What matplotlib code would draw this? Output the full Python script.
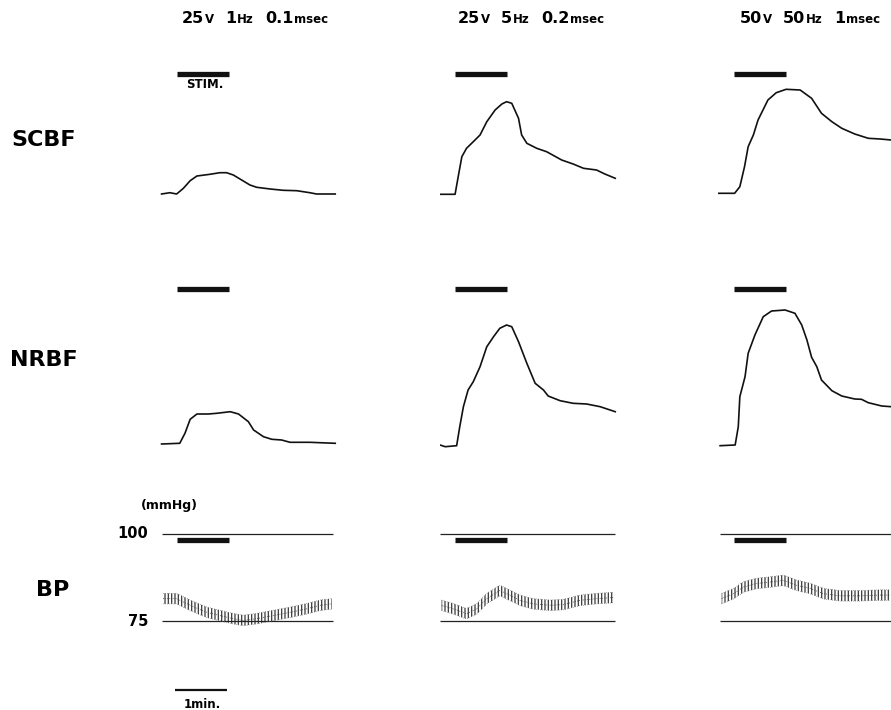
import matplotlib
matplotlib.use('Agg')
import matplotlib.pyplot as plt

W, H = 891, 710
PX_PER_MIN = 52

# column headers: (number, unit) groups
titles = [
    [('25', 'V'), ('1', 'Hz'), ('0.1', 'msec')],
    [('25', 'V'), ('5', 'Hz'), ('0.2', 'msec')],
    [('50', 'V'), ('50', 'Hz'), ('1', 'msec')],
]

# stimulation onset (min from trace start), duration 1 min
stim_on = [0.33, 0.29, 0.31]
stim_dur = 1.0

# SCBF traces: time (min) and flow above baseline (arbitrary units)
scbf_t1 = [0.03, 0.19, 0.32, 0.45, 0.58, 0.71, 0.96, 1.15, 1.28, 1.41, 1.57, 1.73, 1.86, 2.12, 2.37, 2.63, 2.88, 3.01, 3.37]
scbf_v1 = [1, 2.3, 1, 6.7, 14.3, 19, 20.7, 22.3, 22.3, 20, 15, 10, 7.7, 6, 4.7, 4.3, 2.3, 1, 1]
scbf_t2 = [0, 0.29, 0.35, 0.42, 0.51, 0.64, 0.77, 0.90, 1.06, 1.19, 1.28, 1.38, 1.51, 1.57, 1.67, 1.86, 2.05, 2.34, 2.56, 2.76, 3.01, 3.17, 3.37]
scbf_v2 = [0.7, 0.7, 18.3, 38.3, 46.7, 53.3, 60, 73.3, 85, 91, 93.3, 91.7, 76.7, 60, 51.7, 46.7, 43.3, 35, 31, 26.7, 25, 21, 16.7]
scbf_t3 = [0, 0.32, 0.42, 0.51, 0.58, 0.68, 0.77, 0.96, 1.12, 1.31, 1.58, 1.80, 1.99, 2.19, 2.38, 2.63, 2.89, 3.12, 3.33]
scbf_v3 = [1.7, 1.7, 8.3, 28.3, 48.3, 60, 75, 95, 102.3, 105.7, 105, 96.7, 81.7, 73.3, 66.7, 61, 56.7, 56, 55]

# NRBF traces
nrbf_t1 = [0.03, 0.38, 0.48, 0.58, 0.71, 0.93, 1.09, 1.35, 1.51, 1.70, 1.80, 1.99, 2.15, 2.34, 2.50, 2.88, 3.37]
nrbf_v1 = [1, 1.7, 11.7, 25.7, 31, 31, 31.7, 33.3, 31, 23.3, 15, 8.3, 5.7, 5, 2.7, 2.7, 1.7]
nrbf_t2 = [0, 0.10, 0.32, 0.38, 0.45, 0.54, 0.64, 0.77, 0.90, 1.03, 1.15, 1.28, 1.38, 1.51, 1.67, 1.83, 1.99, 2.08, 2.31, 2.56, 2.82, 3.08, 3.37]
nrbf_v2 = [0, -1.7, -0.7, 18.3, 38.3, 55, 63.3, 78.3, 98.3, 108.3, 116.7, 120, 118.3, 103.3, 81.7, 61.7, 55, 49, 44.3, 41.7, 41, 38.3, 33.3]
nrbf_t3 = [0.04, 0.33, 0.39, 0.42, 0.52, 0.58, 0.71, 0.87, 1.03, 1.29, 1.48, 1.61, 1.71, 1.80, 1.90, 1.99, 2.19, 2.38, 2.63, 2.76, 2.89, 3.15, 3.33]
nrbf_v3 = [-0.7, 0, 18.3, 48.3, 68.3, 91.7, 110, 128.3, 134, 135, 131.7, 120, 105, 87.7, 78.3, 65, 54.3, 49, 46, 45.7, 42.3, 39, 38.3]

# BP traces (mean, mmHg); pulse band is +/- bp_half
bp_t1 = [0.06, 0.32, 0.58, 0.90, 1.15, 1.41, 1.60, 1.86, 2.18, 2.50, 2.82, 3.08, 3.30]
bp_p1 = [81.5, 81.5, 79.6, 77.6, 76.7, 75.8, 75.3, 75.8, 76.7, 77.6, 78.6, 79.6, 80.0]
bp_t2 = [0.03, 0.26, 0.51, 0.71, 0.90, 1.15, 1.35, 1.54, 1.79, 2.12, 2.37, 2.69, 3.01, 3.33]
bp_p2 = [79.6, 78.6, 77.2, 78.6, 81.5, 83.8, 82.4, 81.0, 80.0, 79.6, 79.8, 81.0, 81.5, 81.8]
bp_t3 = [0.07, 0.30, 0.49, 0.74, 1.00, 1.26, 1.51, 1.77, 2.03, 2.35, 2.73, 3.12, 3.31]
bp_p3 = [81.5, 82.9, 84.8, 85.8, 86.2, 86.7, 85.3, 84.4, 82.9, 82.3, 82.3, 82.5, 82.5]
bp_half = 1.5

bp_ref = [100, 75]
ref_span = [(0.03, 3.33), (0.0, 3.37), (0.04, 3.40)]

scbf = [(scbf_t1, scbf_v1), (scbf_t2, scbf_v2), (scbf_t3, scbf_v3)]
nrbf = [(nrbf_t1, nrbf_v1), (nrbf_t2, nrbf_v2), (nrbf_t3, nrbf_v3)]
bp = [(bp_t1, bp_p1), (bp_t2, bp_p2), (bp_t3, bp_p3)]

# layout in pixels
col_x0 = [160, 440, 718]
col_w = 180
FONT = 'DejaVu Sans'
plt.rcParams['hatch.linewidth'] = 0.9

fig = plt.figure(figsize=(W / 100, H / 100), dpi=100)
fig.patch.set_facecolor('white')


def add_ax(x0, y0, x1, y1):
    x1 = min(x1, W)
    ax = fig.add_axes([x0 / W, 1 - y1 / H, (x1 - x0) / W, (y1 - y0) / H])
    ax.set_xlim(0, (x1 - x0) / PX_PER_MIN)
    ax.axis('off')
    return ax


def ftext(x, y, s, size, **kw):
    return fig.text(x / W, 1 - y / H, s, fontsize=size, fontweight='bold',
                    family=FONT, **kw)


rows = [
    ('SCBF', scbf, (60, 200), (-5, 135), 121.5),
    ('NRBF', nrbf, (280, 460), (-15, 165), 156),
]

for name, traces, (y0, y1), ylim, bar_y in rows:
    for i, (t, v) in enumerate(traces):
        ax = add_ax(col_x0[i], y0, col_x0[i] + col_w, y1)
        ax.set_ylim(*ylim)
        ax.plot(t, v, color='#111111', lw=1.2, solid_joinstyle='round')
        ax.hlines(bar_y, stim_on[i], stim_on[i] + stim_dur, color='#111111', lw=3.8)

# BP row
for i, (t, p) in enumerate(bp):
    ax = add_ax(col_x0[i], 520, col_x0[i] + col_w, 640)
    ax.set_ylim(69.74, 103.84)
    for ref in bp_ref:
        ax.hlines(ref, ref_span[i][0], ref_span[i][1], color='#222222', lw=0.9)
    lo = [v - bp_half for v in p]
    hi = [v + bp_half for v in p]
    ax.fill_between(t, lo, hi, facecolor='none', edgecolor='#3a3a3a',
                    hatch='|||||', lw=0)
    ax.plot(t, hi, color='#666666', lw=0.5, ls=(0, (1, 2)))
    ax.plot(t, p, color='#444444', lw=0.6, ls=(0, (1, 1.5)))
    ax.plot(t, lo, color='#666666', lw=0.5, ls=(0, (1, 2)))
    ax.hlines(98.2, stim_on[i], stim_on[i] + stim_dur, color='#111111', lw=3.8)

# 1 min scale bar
ax = add_ax(160, 680, 160 + col_w, 700)
ax.set_ylim(0, 1)
ax.hlines(0.5, 0.29, 0.29 + 1.0, color='#111111', lw=1.6)
ftext(202, 704, '1min.', 8.5, ha='center', va='center')

# STIM label
ftext(205, 84, 'STIM.', 8.5, ha='center', va='center')

# row labels
ftext(44, 140, 'SCBF', 16, ha='center', va='center')
ftext(44, 360, 'NRBF', 16, ha='center', va='center')
ftext(53, 590, 'BP', 16, ha='center', va='center')
ftext(141, 506, '(mmHg)', 9, ha='left', va='center')
ftext(148, 533, '100', 10.5, ha='right', va='center')
ftext(148, 621, '75', 10.5, ha='right', va='center')

# column titles: big numbers with small units, centred over each column
renderer = fig.canvas.get_renderer()
title_cx = [255, 531, 810]
for cx, groups in zip(title_cx, titles):
    pieces = []
    for num, unit in groups:
        pieces.append((num, 11.5, 1))
        pieces.append((unit, 8.5, 11))
    objs = []
    total = 0
    for s, size, gap in pieces:
        tx = ftext(0, 23, s, size, ha='left', va='baseline')
        w = tx.get_window_extent(renderer).width
        objs.append((tx, w, gap))
        total += w + gap
    total -= objs[-1][2]
    x = cx - total / 2
    for tx, w, gap in objs:
        tx.set_x(x / W)
        x += w + gap

fig.savefig('out.png', dpi=100, facecolor='white')
